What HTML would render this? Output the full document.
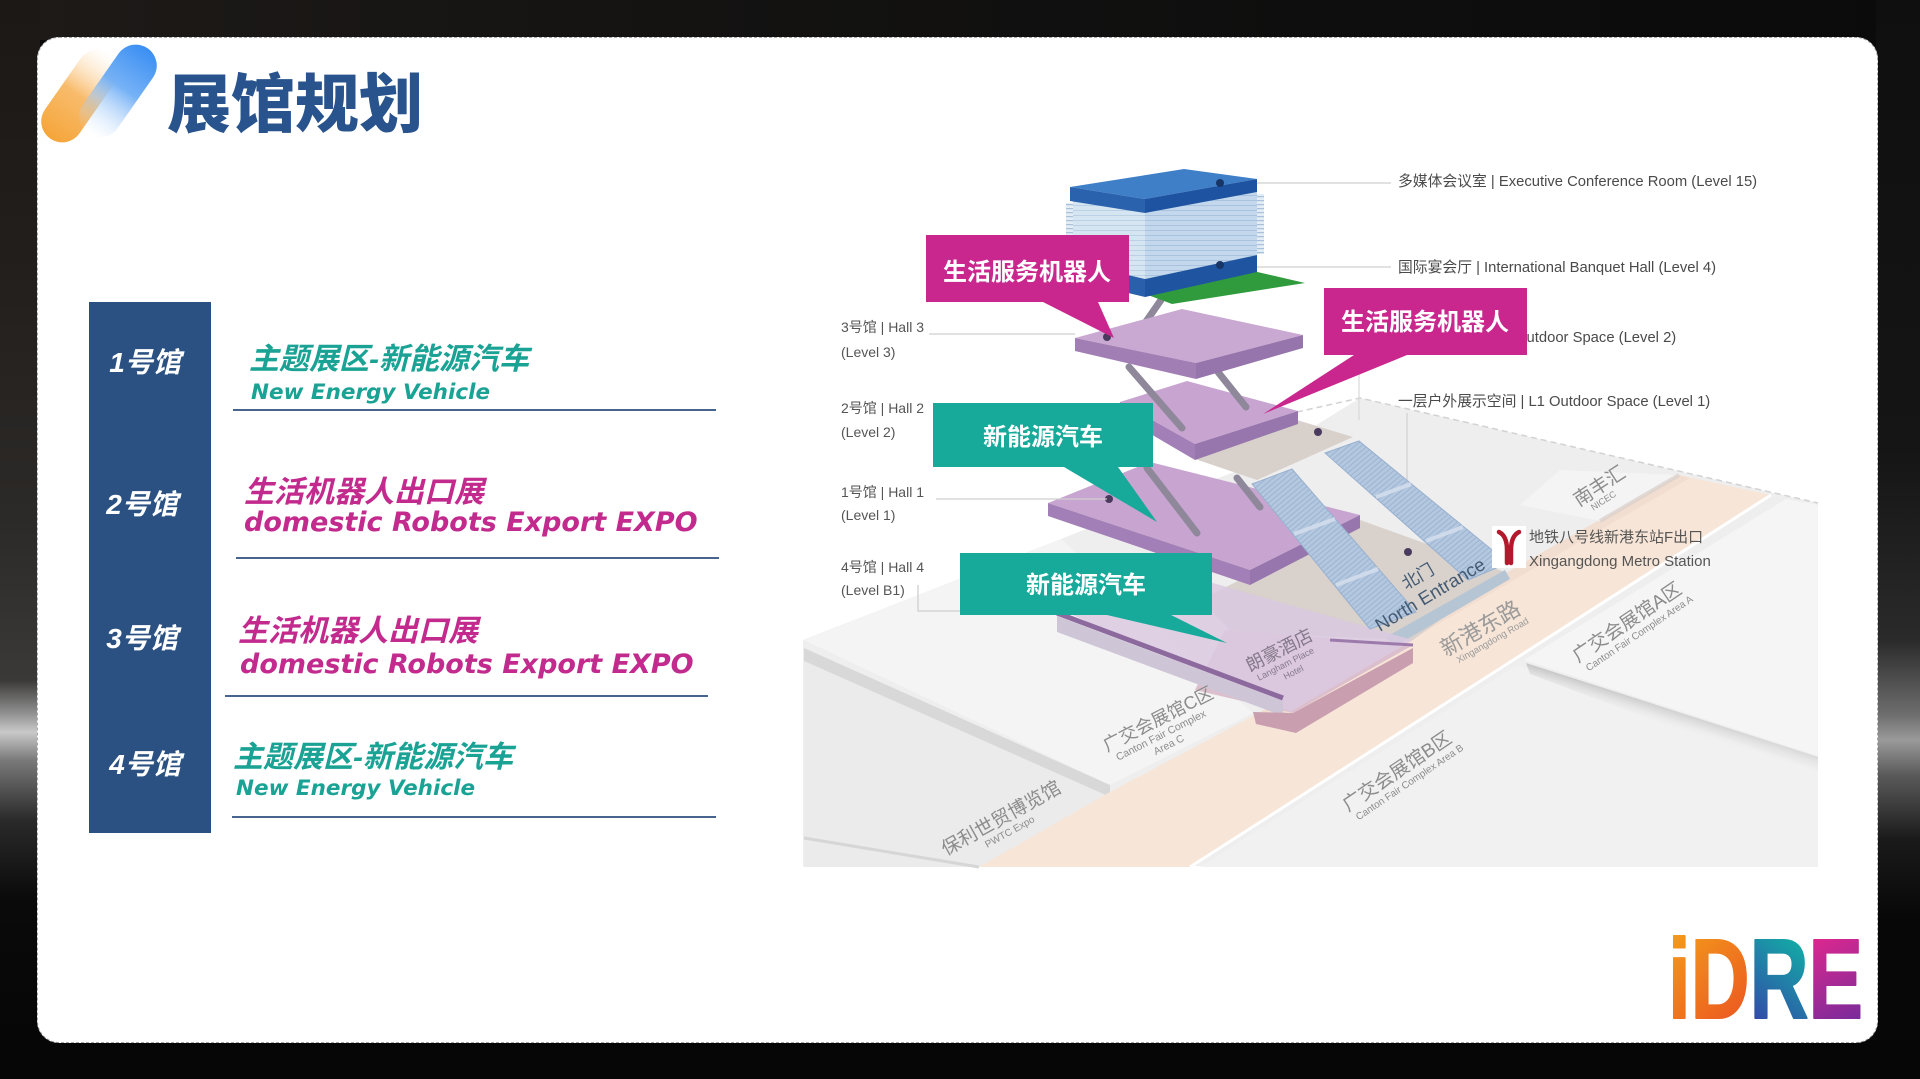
<!DOCTYPE html>
<html><head><meta charset="utf-8">
<style>
html,body{margin:0;padding:0}
body{width:1920px;height:1079px;overflow:hidden;background:#0a0a0a;position:relative;font-family:"Liberation Sans","Noto Sans CJK SC",sans-serif}
.bg{position:absolute}
.card{position:absolute;left:37px;top:37px;width:1841px;height:1006px;box-sizing:border-box;border-radius:22px;background:#fff;border:1px dashed #a8a8a8}
svg{position:absolute;left:0;top:0}
</style></head><body>
<div class="bg" style="left:0;top:0;width:1920px;height:40px;background:linear-gradient(90deg,#1e1a18,#141312 35%,#0e0e0e 70%,#0b0b0b)"></div>
<div class="bg" style="left:0;top:0;width:40px;height:1079px;background:linear-gradient(180deg,#1c1816 0,#221e1c 250px,#2c2a28 520px,#3a3938 680px,#8d8d8d 712px,#c9c9c9 732px,#7a7a7a 760px,#2a2a2a 820px,#0a0a0a 900px,#050505 1079px)"></div>
<div class="bg" style="right:0;top:0;width:44px;height:1079px;background:linear-gradient(180deg,#0f0f0f 0,#151515 450px,#2a2a2a 640px,#6e6e6e 715px,#9a9a9a 740px,#5a5a5a 775px,#1a1a1a 840px,#070707 920px)"></div>
<div class="bg" style="left:0;top:1040px;width:1920px;height:39px;background:#060606"></div>
<div class="card"></div>

<svg width="1920" height="1079" viewBox="0 0 1920 1079" xmlns="http://www.w3.org/2000/svg">
<defs>
  <linearGradient id="og" x1="0" y1="1" x2="0" y2="0">
    <stop offset="0" stop-color="#f5a53a" stop-opacity="1"/>
    <stop offset="0.5" stop-color="#f8b864" stop-opacity="0.95"/>
    <stop offset="1" stop-color="#fde6c6" stop-opacity="0"/>
  </linearGradient>
  <linearGradient id="bgc" x1="0" y1="0" x2="0" y2="1">
    <stop offset="0" stop-color="#3a8ef3" stop-opacity="1"/>
    <stop offset="0.45" stop-color="#66a9f5" stop-opacity="0.9"/>
    <stop offset="1" stop-color="#d6e8fc" stop-opacity="0"/>
  </linearGradient>
  <pattern id="esc" width="4" height="4" patternUnits="userSpaceOnUse" patternTransform="rotate(-40)">
    <rect width="4" height="4" fill="#b4c8e0"/>
    <rect width="4" height="1.2" fill="#9fb6d3"/>
  </pattern>
  <pattern id="fin" width="6" height="4" patternUnits="userSpaceOnUse">
    <rect width="6" height="4" fill="#e3edf6"/>
    <rect width="6" height="1.2" fill="#a8c2dc"/>
  </pattern>
  <pattern id="glL" width="8" height="5" patternUnits="userSpaceOnUse">
    <rect width="8" height="5" fill="#d6e5f2"/>
    <rect width="8" height="1" fill="#bcd1e6"/>
  </pattern>
  <pattern id="glR" width="8" height="5" patternUnits="userSpaceOnUse">
    <rect width="8" height="5" fill="#c3d8ec"/>
    <rect width="8" height="1" fill="#a9c3df"/>
  </pattern>
  <linearGradient id="shA" gradientUnits="userSpaceOnUse" x1="1672" y1="708" x2="1666" y2="728">
    <stop offset="0" stop-color="#c9c9c9"/>
    <stop offset="1" stop-color="#f1f1f1" stop-opacity="0"/>
  </linearGradient>
  <linearGradient id="gI" gradientUnits="userSpaceOnUse" x1="1668" y1="940" x2="1740" y2="1018">
    <stop offset="0" stop-color="#f39a1c"/>
    <stop offset="1" stop-color="#ec5a20"/>
  </linearGradient>
  <linearGradient id="gR" gradientUnits="userSpaceOnUse" x1="1747" y1="1018" x2="1812" y2="940">
    <stop offset="0" stop-color="#3447a8"/>
    <stop offset="1" stop-color="#10b4a6"/>
  </linearGradient>
  <linearGradient id="gE" gradientUnits="userSpaceOnUse" x1="1820" y1="940" x2="1860" y2="1018">
    <stop offset="0" stop-color="#d8288f"/>
    <stop offset="1" stop-color="#7a2b9a"/>
  </linearGradient>
</defs>

<!-- header logo -->
<rect x="-21" y="-52" width="42" height="104" rx="21" transform="translate(80,96) rotate(35)" fill="url(#og)"/>
<rect x="-21" y="-52" width="42" height="104" rx="21" transform="translate(118,91) rotate(35)" fill="url(#bgc)"/>
<text x="167" y="127" font-size="64" font-weight="900" fill="#28538c" font-family="'Liberation Sans','Noto Sans CJK SC',sans-serif">展馆规划</text>

<!-- left list -->
<rect x="89" y="302" width="122" height="531" fill="#2a5182"/>
<g font-family="'Liberation Sans','Noto Sans CJK SC',sans-serif" font-weight="700" font-style="italic" fill="#ffffff" font-size="28" text-anchor="middle">
  <text x="145" y="372">1号馆</text>
  <text x="142" y="514">2号馆</text>
  <text x="142" y="648">3号馆</text>
  <text x="145" y="774">4号馆</text>
</g>
<g font-family="'Liberation Sans','Noto Sans CJK SC',sans-serif" font-weight="700" font-style="italic" font-size="30">
  <text x="249" y="369" fill="#1aa394">主题展区-新能源汽车</text>
  <text x="244" y="502" fill="#c22a8d">生活机器人出口展</text>
  <text x="238" y="641" fill="#c22a8d">生活机器人出口展</text>
  <text x="233" y="767" fill="#1aa394">主题展区-新能源汽车</text>
</g>
<g font-family="'DejaVu Sans',sans-serif" font-weight="700" font-style="italic">
  <text x="251" y="399" font-size="21.5" fill="#1aa394">New Energy Vehicle</text>
  <text x="244" y="531" font-size="27" fill="#c22a8d">domestic Robots Export EXPO</text>
  <text x="240" y="673" font-size="27" fill="#c22a8d">domestic Robots Export EXPO</text>
  <text x="236" y="795" font-size="21.5" fill="#1aa394">New Energy Vehicle</text>
</g>
<g stroke="#46648e" stroke-width="2">
  <line x1="233" y1="410" x2="716" y2="410"/>
  <line x1="236" y1="558" x2="719" y2="558"/>
  <line x1="225" y1="696" x2="708" y2="696"/>
  <line x1="232" y1="817" x2="716" y2="817"/>
</g>

<!-- MAP -->
<polygon points="803,640 1061,539 1160,500 1250,466 1360,398 1818,503 1818,866 803,866" fill="#eeeeee"/>
<polyline points="1297,412 1360,398 1818,503" fill="none" stroke="#d2d2d2" stroke-width="1.5" stroke-dasharray="6 4"/>
<line x1="1407" y1="413" x2="1407" y2="503" stroke="#d0d0d0" stroke-width="1.2"/>
<line x1="1359" y1="355" x2="1359" y2="420" stroke="#d8d8d8" stroke-width="1.2"/>
<!-- Area C -->
<polygon points="804,640 1061,539 1253,713 1110,785" fill="#f4f4f4"/>
<polygon points="804,648 1110,785 1110,797 804,661" fill="#d8d8d8"/>
<!-- PWTC slab -->
<polygon points="804,661 1110,797 979,867 804,867" fill="#ebebeb"/>
<line x1="804" y1="838" x2="979" y2="867" stroke="#d6d6d6" stroke-width="3"/>
<!-- road -->
<polygon points="979,867 1110,792 1253,716 1679,475 1771,495 1190,867" fill="#f7e5d7"/>
<polygon points="1253,716 1679,475 1690,478 1262,726" fill="#efd9cb" opacity="0.6"/>
<line x1="1190" y1="867" x2="1771" y2="495" stroke="#ffffff" stroke-width="3"/>
<!-- B & A slabs -->
<polygon points="1200,867 1517,665 1818,770 1818,867" fill="#f1f1f1"/>
<polygon points="1524,660 1786,499 1818,505 1818,756" fill="#f5f5f5"/>
<polygon points="1526,663 1818,757 1818,782 1530,674" fill="url(#shA)"/>
<!-- NICEC slab hint -->
<polygon points="1560,470 1679,475 1600,521 1520,505" fill="#f4f4f4"/>
<line x1="1600" y1="521" x2="1679" y2="475" stroke="#d8cfc9" stroke-width="4" opacity="0.7"/>

<!-- lower plaza -->
<polygon points="1200,600 1360,520 1505,572 1413,640 1233,633" fill="#d8d1cc"/>
<polygon points="1386,637 1505,570 1510,579 1392,648" fill="#b6c5d4"/>
<!-- hotel & hall 4 -->
<polygon points="1225,630 1413,645 1293,713 1195,690" fill="#dcbfcc"/>
<polygon points="1057,608 1160,568 1413,640 1290,712" fill="#dac9e0" opacity="0.85"/>
<line x1="1057" y1="613" x2="1283" y2="698" stroke="#8c6a9e" stroke-width="5"/>
<polygon points="1057,616 1283,701 1283,716 1057,632" fill="#cec6d6"/>
<polygon points="1253,712 1293,713 1413,648 1413,663 1296,733 1256,724" fill="#c99fb0"/>
<line x1="1330" y1="640" x2="1413" y2="645" stroke="#9c7aab" stroke-width="3"/>

<!-- hall 1 -->
<polygon points="1048,503 1150,462 1360,515 1250,570" fill="#c7a5d0"/>
<polygon points="1048,503 1250,570 1250,585 1048,516" fill="#a27fb6"/>
<polygon points="1250,570 1360,515 1360,528 1250,585" fill="#9676ac"/>

<!-- escalators -->
<polygon points="1252,484 1292,469 1416,612 1370,629" fill="url(#esc)" stroke="#98b0cf" stroke-width="1"/>
<polygon points="1325,453 1359,441 1508,563 1468,580" fill="url(#esc)" stroke="#98b0cf" stroke-width="1"/>
<g stroke="#cfdbea" stroke-width="4">
  <line x1="1294" y1="534" x2="1335" y2="519"/>
  <line x1="1336" y1="585" x2="1378" y2="569"/>
  <line x1="1376" y1="497" x2="1411" y2="484"/>
  <line x1="1426" y1="541" x2="1463" y2="527"/>
</g>
<!-- upper plaza -->
<polygon points="1195,459 1297,420 1353,437 1257,480" fill="#d8d0cb"/>

<!-- legs hall2->hall1 -->
<g stroke="#8e889a" stroke-width="7" stroke-linecap="round">
  <line x1="1147" y1="468" x2="1197" y2="533"/>
  <line x1="1237" y1="478" x2="1260" y2="507"/>
</g>
<!-- hall 2 -->
<polygon points="1120,402 1187,381 1298,411 1195,444" fill="#c7a5d0"/>
<polygon points="1120,402 1195,444 1195,460 1120,416" fill="#a27fb6"/>
<polygon points="1195,444 1298,411 1298,424 1195,460" fill="#9676ac"/>
<!-- legs hall3->hall2 -->
<g stroke="#8e889a" stroke-width="7" stroke-linecap="round">
  <line x1="1129" y1="367" x2="1182" y2="428"/>
  <line x1="1218" y1="372" x2="1246" y2="407"/>
  <line x1="1161" y1="300" x2="1145" y2="323"/>
</g>
<!-- hall 3 -->
<polygon points="1075,338 1182,309 1303,335 1196,363" fill="#c9a8d2"/>
<polygon points="1075,338 1196,363 1196,379 1075,351" fill="#a17fb5"/>
<polygon points="1196,363 1303,335 1303,348 1196,379" fill="#9575ab"/>

<!-- green deck -->
<polygon points="1140,292 1240,268 1305,283 1172,304" fill="#2f9b3c"/>
<!-- tower lower slab -->
<polygon points="1073,262 1184,243 1257,255 1145,279" fill="#3a79c2"/>
<polygon points="1073,262 1145,279 1145,297 1073,280" fill="#2a60ab"/>
<polygon points="1145,279 1257,255 1257,272 1145,297" fill="#1f55a0"/>
<!-- glass -->
<rect x="1066" y="203" width="9" height="58" fill="url(#fin)"/>
<rect x="1255" y="194" width="9" height="60" fill="url(#fin)"/>
<polygon points="1073,200 1145,213 1145,279 1073,262" fill="url(#glL)"/>
<polygon points="1145,213 1257,192 1257,255 1145,279" fill="url(#glR)"/>
<!-- tower top slab -->
<polygon points="1070,187 1184,169 1257,179 1145,199" fill="#3e7fc8"/>
<polygon points="1070,187 1145,199 1145,213 1070,201" fill="#2a62ad"/>
<polygon points="1145,199 1257,179 1257,192 1145,213" fill="#1d53a0"/>

<!-- dots -->
<g fill="#4a3a5e">
  <circle cx="1220" cy="183" r="4" fill="#173666"/>
  <circle cx="1220" cy="265" r="4" fill="#173666"/>
  <circle cx="1107" cy="337" r="4"/>
  <circle cx="1318" cy="432" r="4"/>
  <circle cx="1109" cy="499" r="4"/>
  <circle cx="1408" cy="552" r="4"/>
</g>

<!-- leader lines -->
<g stroke="#cfcfcf" stroke-width="1.3" fill="none">
  <line x1="929" y1="334" x2="1075" y2="334"/>
  <line x1="936" y1="499" x2="1107" y2="499"/>
  <polyline points="918,585 918,611 960,611"/>
  <line x1="1257" y1="183" x2="1391" y2="183"/>
  <line x1="1257" y1="267" x2="1391" y2="267"/>
</g>

<!-- map labels -->
<g font-family="'Liberation Sans','Noto Sans CJK SC',sans-serif" fill="#555" font-size="14">
  <text x="841" y="332">3号馆 | Hall 3</text>
  <text x="841" y="357">(Level 3)</text>
  <text x="841" y="413">2号馆 | Hall 2</text>
  <text x="841" y="437">(Level 2)</text>
  <text x="841" y="497">1号馆 | Hall 1</text>
  <text x="841" y="520">(Level 1)</text>
  <text x="841" y="572">4号馆 | Hall 4</text>
  <text x="841" y="595">(Level B1)</text>
</g>
<g font-family="'Liberation Sans','Noto Sans CJK SC',sans-serif" fill="#4a4a4a" font-size="14.8">
  <text x="1398" y="186">多媒体会议室 | Executive Conference Room (Level 15)</text>
  <text x="1398" y="272">国际宴会厅 | International Banquet Hall (Level 4)</text>
  <text x="1364" y="342">二层户外展示空间 | L2 Outdoor Space (Level 2)</text>
  <text x="1398" y="406">一层户外展示空间 | L1 Outdoor Space (Level 1)</text>
</g>

<!-- rotated ground labels -->
<g font-family="'Liberation Sans','Noto Sans CJK SC',sans-serif" fill="#8c8c8c">
  <g transform="translate(946,856) rotate(-29)"><text font-size="19">保利世贸博览馆</text><text x="40" y="13" font-size="10">PWTC Expo</text></g>
  <g transform="translate(1107,752) rotate(-27)"><text font-size="18">广交会展馆C区</text><text x="6" y="13" font-size="10.5">Canton Fair Complex</text><text x="42" y="25" font-size="10.5">Area C</text></g>
  <g transform="translate(1250,672) rotate(-27)" fill="#85798a"><text font-size="18">朗豪酒店</text><text x="4" y="12" font-size="9">Langham Place</text><text x="28" y="23" font-size="9">Hotel</text></g>
  <g transform="translate(1446,657) rotate(-30)" fill="#9a9a9a"><text font-size="22">新港东路</text><text x="8" y="12" font-size="9.5">Xingangdong Road</text></g>
  <g transform="translate(1579,507) rotate(-33)"><text font-size="19">南丰汇</text><text x="10" y="11" font-size="9">NICEC</text></g>
  <g transform="translate(1578,663) rotate(-34)"><text font-size="19">广交会展馆A区</text><text x="4" y="13" font-size="10">Canton Fair Complex Area A</text></g>
  <g transform="translate(1348,812) rotate(-34)"><text font-size="19">广交会展馆B区</text><text x="4" y="13" font-size="10">Canton Fair Complex Area B</text></g>
  <g transform="translate(1406,590) rotate(-30)" fill="#435a72"><text font-size="17">北门</text></g>
  <g transform="translate(1380,632) rotate(-31)" fill="#435a72"><text font-size="18.5">North Entrance</text></g>
</g>

<!-- metro -->
<rect x="1492" y="526" width="34" height="42" fill="#ffffff"/>
<path d="M1499,532 Q1507,536 1507,550 L1507,563 M1519,532 Q1511,536 1511,550 L1511,563" stroke="#b3192c" stroke-width="4.5" fill="none" stroke-linecap="round"/>
<g font-family="'Liberation Sans','Noto Sans CJK SC',sans-serif" fill="#555" font-size="15">
  <text x="1529" y="542">地铁八号线新港东站F出口</text>
  <text x="1529" y="566">Xingangdong Metro Station</text>
</g>

<!-- callouts -->
<polygon points="926,235 1129,235 1129,302 1098,302 1114,338 1043,302 926,302" fill="#c9278e"/>
<polygon points="1324,288 1527,288 1527,355 1407,355 1263,414 1354,355 1324,355" fill="#c9278e"/>
<polygon points="933,403 1153,403 1153,467 1118,467 1157,522 1064,467 933,467" fill="#17a99a"/>
<polygon points="960,553 1212,553 1212,615 1171,615 1227,643 1107,615 960,615" fill="#17a99a"/>
<g font-family="'Liberation Sans','Noto Sans CJK SC',sans-serif" font-weight="700" fill="#ffffff" font-size="24" text-anchor="middle">
  <text x="1027" y="280">生活服务机器人</text>
  <text x="1425" y="330">生活服务机器人</text>
  <text x="1043" y="445">新能源汽车</text>
  <text x="1086" y="593">新能源汽车</text>
</g>

<!-- iDRE logo -->
<text x="1668" y="1018" font-size="113" font-weight="700" textLength="195" lengthAdjust="spacingAndGlyphs" font-family="'Liberation Sans',sans-serif" stroke-linejoin="round"><tspan fill="url(#gI)" stroke="url(#gI)" stroke-width="2">iD</tspan><tspan fill="url(#gR)" stroke="url(#gR)" stroke-width="2">R</tspan><tspan fill="url(#gE)" stroke="url(#gE)" stroke-width="2">E</tspan></text>
</svg>
</body></html>
